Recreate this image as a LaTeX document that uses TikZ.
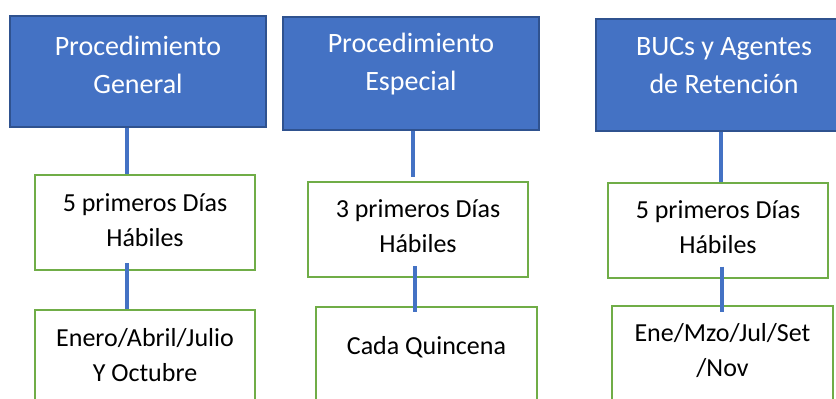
\documentclass[tikz,border=0pt]{standalone}
\usepackage{fontspec}
\setmainfont{Carlito}
\usetikzlibrary{calc}

\definecolor{headfill}{HTML}{4472C4}
\definecolor{headline}{HTML}{2F528F}
\definecolor{stepline}{HTML}{70AD47}
\definecolor{linkcolor}{HTML}{4472C4}

\tikzset{
  headbox/.style={draw=headline, line width=1.5pt, fill=headfill, minimum width=256, inner sep=0pt},
  headtext/.style={text=white, align=center, inner sep=0pt, font=\fontsize{28}{38}\selectfont},
  stepbox/.style={draw=stepline, line width=2pt, fill=white, minimum width=220, minimum height=95, inner sep=0pt},
  steptext/.style={text=black, align=center, inner sep=0pt, font=\fontsize{26}{35}\selectfont},
  link/.style={draw=linkcolor, line width=3.5pt}
}

\begin{document}
\begin{tikzpicture}[x=1pt,y=-1pt]
\useasboundingbox (0,0) rectangle (836,399);

% procedimiento general
\node[headbox, minimum height=111] (pg) at (138,71.5) {};
\node[headtext] (pgtxt) at (138,65) {Procedimiento\\General};
\node[stepbox] (pgdias) at (145,222.5) {};
\node[steptext] (pgdiastxt) at (145,220.5) {5 primeros Días\\Hábiles};
\node[stepbox] (pgmes) at (145,357.5) {};
\node[steptext] (pgmestxt) at (145,355.5) {Enero/Abril/Julio\\Y Octubre};

% procedimiento especial
\node[headbox, minimum height=113] (pe) at (411,73.5) {};
\node[headtext] (petxt) at (411,64.5) {Procedimiento\\Especial};
\node[stepbox] (pedias) at (418,229.5) {};
\node[steptext] (pediastxt) at (418,226.5) {3 primeros Días\\Hábiles};
\node[stepbox, minimum width=221] (pemes) at (426.5,354.5) {};
\node[steptext] (pemestxt) at (426.5,347) {Cada Quincena};

% bucs y agentes
\node[headbox, minimum height=112] (bu) at (724,75) {};
\node[headtext] (butxt) at (724,66) {BUCs y Agentes\\de Retención};
\node[stepbox] (budias) at (718,230) {};
\node[steptext] (budiastxt) at (718,227) {5 primeros Días\\Hábiles};
\node[stepbox, minimum width=221] (bumes) at (722.5,353.5) {};
\node[steptext] (bumestxt) at (722.5,351) {Ene/Mzo/Jul/Set\\/Nov};

% conectores
\draw[link] ([xshift=-11]pg.south) -- ([xshift=-11]pg.south |- pgdias.north);
\draw[link] ([xshift=-18,yshift=8]pgdias.south) -- ([xshift=-18]pgdias.south |- pgmes.north);
\draw[link] ([xshift=2]pe.south) -- ($([xshift=2]pe.south |- pedias.north)+(0,-4)$);
\draw[link] ([xshift=-3,yshift=12]pedias.south) -- ($([xshift=-3]pedias.south |- pemes.north)+(0,6)$);
\draw[link] ([xshift=-3]bu.south) -- ([xshift=-3]bu.south |- budias.north);
\draw[link] ([xshift=4,yshift=12]budias.south) -- ($([xshift=4]budias.south |- bumes.north)+(0,7)$);
\end{tikzpicture}
\end{document}
